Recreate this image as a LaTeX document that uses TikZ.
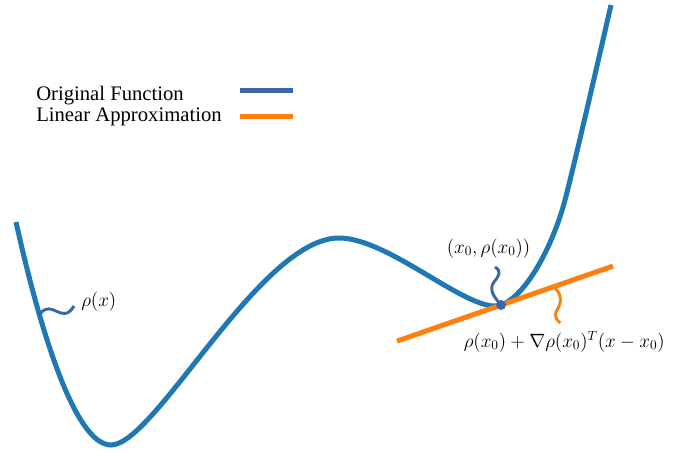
\documentclass[tikz,border=0pt]{standalone}
\usepackage{fontspec}
\setmainfont{Liberation Serif}
\usetikzlibrary{calc,positioning}
\definecolor{curveblue}{HTML}{1F77B4}
\definecolor{approxorange}{HTML}{FF7F0E}
\definecolor{markblue}{HTML}{3A67A8}

\begin{document}
\begin{tikzpicture}[x=0.75pt, y=-0.75pt,
    curve/.style={curveblue, line width=3.75pt},
    approx/.style={approxorange, line width=3.75pt},
    wiggle/.style={line width=2.2pt},
    mathlbl/.style={inner sep=0pt, font=\fontsize{14.8}{17}\selectfont},
    leglbl/.style={inner sep=0pt, anchor=base west, font=\fontsize{15.5}{18}\selectfont}]
  \useasboundingbox (0,0) rectangle (673,454);
  % legend
  \node[leglbl] (legorig) at (36,100) {Original Function};
  \node[leglbl] (legapprox) at (36,121.3) {Linear Approximation};
  \draw[markblue, line width=3.4pt] (240,90.3) -- (293,90.3);
  \draw[approxorange, line width=3.4pt] (240,116.5) -- (293,116.5);
  % the function and its tangent
  \coordinate (x0) at (501,305);
  \draw[curve] (16,222) .. controls (40,330) and (75,445) .. (111,445)
    .. controls (155,445) and (260,238) .. (339,238)
    .. controls (390,238) and (471,315.4) .. (x0)
    .. controls (526,296.3) and (553,245.6) .. (565,200)
    .. controls (575,162) and (603,40) .. (611,5);
  \draw[approx] ($(x0)+(-104,36.1)$) -- ($(x0)+(112,-38.9)$);
  % labels
  \node[mathlbl, anchor=base west] (rholab) at (81,306) {$\rho(x)$};
  \node[mathlbl, anchor=base] (x0lab) at (488.5,253) {$(x_0,\rho(x_0))$};
  \node[mathlbl, anchor=base west] (tanlab) at (463.5,347) {$\rho(x_0)+\nabla\rho(x_0)^T(x-x_0)$};
  % wiggly pointers
  \coordinate (onrho) at (40,314);
  \coordinate (onapprox) at (554,287);
  \draw[markblue, wiggle] (onrho) .. controls (52,298) and (62,326) .. ($(rholab.base west)+(-7,0)$);
  \draw[markblue, wiggle] (x0) .. controls (495,298) and (488,290) .. (494,282)
    .. controls (499,276) and (502,271) .. ($(x0lab.south)+(6.5,9)$);
  \draw[approxorange, wiggle] (onapprox) .. controls (564,296) and (560,305) .. (557,310)
    .. controls (553,316) and (558,322) .. ($(tanlab.north west)+(97,-8)$);
  \node[circle, fill=markblue, inner sep=0pt, minimum size=7.5pt] (dot) at (x0) {};
\end{tikzpicture}
\end{document}
